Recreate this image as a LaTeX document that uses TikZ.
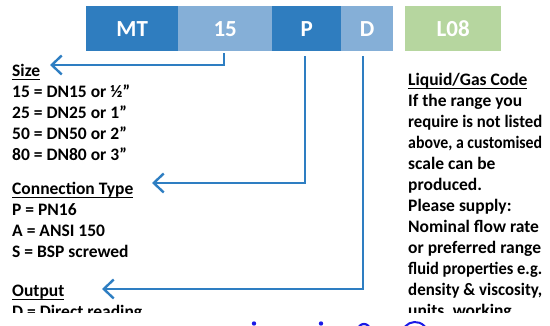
\documentclass[tikz,border=0pt]{standalone}
\usepackage{fontspec}
\usepackage{graphicx}
\setmainfont{Carlito}
\usetikzlibrary{arrows.meta}

\definecolor{codedark}{HTML}{2F7DBF}
\definecolor{codelight}{HTML}{85AFD7}
\definecolor{codegreen}{HTML}{B6D69F}
\definecolor{linkblue}{HTML}{2E7EC2}
\definecolor{mailblue}{HTML}{1A1AE6}

% underline at a fixed depth, through the descenders
\newcommand\ulin[1]{\setbox0\hbox{#1}\rlap{\rule[-3pt]{\wd0}{1.3pt}}\box0}
% squeeze a line of the narrow right-hand column to its width
\newsavebox\colline
\newcommand\fitline[1]{\sbox\colline{#1}%
  \ifdim\wd\colline>134pt\relax\resizebox{134pt}{\height}{\usebox\colline}\else\usebox\colline\fi}

\tikzset{
  codebox/.style={draw=none, minimum height=45pt, inner sep=0pt, anchor=north west,
    text=white, font=\fontsize{23}{26}\selectfont\bfseries},
  conn/.style={draw=linkblue, line width=2.4pt,
    -{Straight Barb[length=10pt,width=19pt,line width=2.4pt]}},
  txt/.style={anchor=base west, inner sep=0pt, font=\fontsize{17.5}{21}\selectfont\bfseries}
}

\begin{document}
\begin{tikzpicture}[x=1pt,y=-1pt]
\useasboundingbox (0,0) rectangle (550,326);

% order code boxes
\node[codebox, fill=codedark,  minimum width=92pt] (bMT)  at (86,6)  {MT};
\node[codebox, fill=codelight, minimum width=94pt] (b15)  at (178,6) {15};
\node[codebox, fill=codedark,  minimum width=69pt] (bP)   at (272,6) {P};
\node[codebox, fill=codelight, minimum width=52pt] (bD)   at (341,6) {D};
\node[codebox, fill=codegreen, minimum width=96pt] (bL08) at (405,6) {L08};

% arrow end points beside the headings
\coordinate (sizeTip)   at (50,65);
\coordinate (connTip)   at (152,183);
\coordinate (outTip)    at (102,289);

\draw[conn] ([xshift=-1pt,yshift=-2pt]b15.south) |- (sizeTip);
\draw[conn] ([xshift=-1.5pt,yshift=-5pt]bP.south) |- (connTip);
\draw[conn] ([xshift=-4pt,yshift=-5pt]bD.south) |- (outTip);

\begin{scope}
\clip (0,0) rectangle (550,313);
% size
\node[txt] (sizeH) at (12,77)  {\ulin{Size}};
\node[txt] (s15)   at (12,98)  {15 = DN15 or ½”};
\node[txt] (s25)   at (12,119) {25 = DN25 or 1”};
\node[txt] (s50)   at (12,140) {50 = DN50 or 2”};
\node[txt] (s80)   at (12,161) {80 = DN80 or 3”};
% connection type
\node[txt] (connH) at (12,195) {\ulin{Connection Type}};
\node[txt] (cP)    at (12,216) {P = PN16};
\node[txt] (cA)    at (12,237) {A = ANSI 150};
\node[txt] (cS)    at (12,258) {S = BSP screwed};
% output
\node[txt] (outH)  at (12,297) {\ulin{Output}};
\node[txt] (oD)    at (12,318) {D = Direct reading};
% liquid / gas code
\node[txt] (liqH)  at (408,86)  {\ulin{Liquid/Gas Code}};
\node[txt] (r1)    at (408,107) {\fitline{If the range you}};
\node[txt] (r2)    at (408,128) {\fitline{require is not listed}};
\node[txt] (r3)    at (408,149) {\fitline{above, a customised}};
\node[txt] (r4)    at (408,170) {\fitline{scale can be}};
\node[txt] (r5)    at (408,191) {\fitline{produced.}};
\node[txt] (r6)    at (408,212) {\fitline{Please supply:}};
\node[txt] (r7)    at (408,233) {\fitline{Nominal flow rate}};
\node[txt] (r8)    at (408,254) {\fitline{or preferred range}};
\node[txt] (r9)    at (408,275) {\fitline{fluid properties e.g.}};
\node[txt] (r10)   at (408,296) {\fitline{density \& viscosity,}};
\node[txt] (r11)   at (408,317) {\fitline{units, working}};
\end{scope}

% tops of the contact line along the lower edge
\begin{scope}
\clip (0,0) rectangle (550,326);
\fill[mailblue] (254,323.5) circle (2.2);
\fill[mailblue] (321,323.5) circle (2.2);
\draw[mailblue, line width=2.2pt] (358,330) arc[start angle=180, end angle=360, radius=6];
\draw[mailblue, line width=2pt] (415,335) ++(200:13) arc[start angle=200, end angle=340, radius=13];
\end{scope}
\end{tikzpicture}
\end{document}
